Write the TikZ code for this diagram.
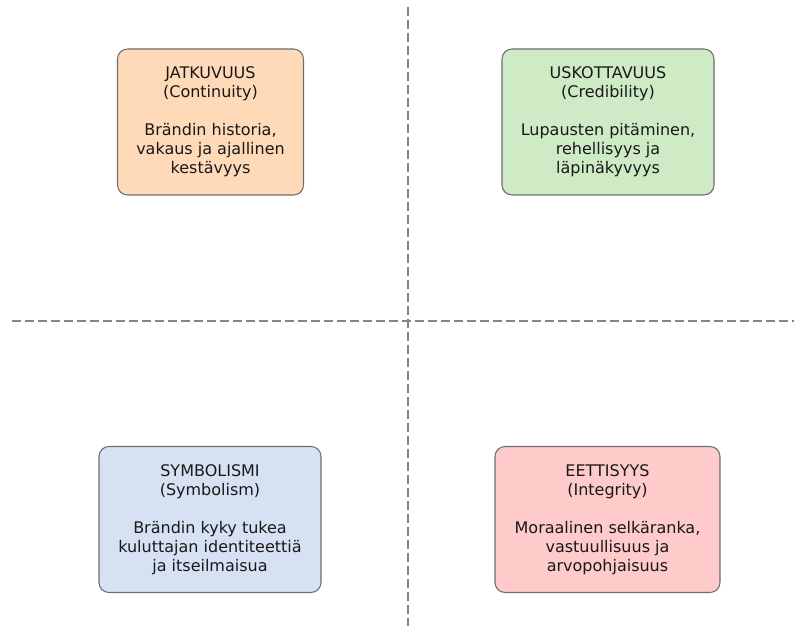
\documentclass[tikz,border=0pt]{standalone}
\usepackage{fontspec}
\setmainfont{DejaVu Sans}
\usetikzlibrary{positioning}
\definecolor{peach}{HTML}{FFDAB9}
\definecolor{mint}{HTML}{CFEBC6}
\definecolor{sky}{HTML}{D6E2F4}
\definecolor{rose}{HTML}{FFCACA}
\definecolor{cardline}{HTML}{6E6E6E}
\definecolor{divgray}{HTML}{858585}
\tikzset{
  card/.style={draw=cardline, line width=0.8pt, rectangle, rounded corners=7.5pt, minimum height=109.5pt, align=center, inner sep=0pt, font=\fontsize{12}{14.25}\selectfont, text=black!90},
  divider/.style={draw=divgray, line width=1.5pt, dash pattern=on 6.75pt off 3pt},
}

\begin{document}
\begin{tikzpicture}[x=0.75pt, y=-0.75pt]
\useasboundingbox (0,0) rectangle (794,630);
% quadrant dividers
\coordinate (vtop) at (408,7);
\coordinate (vbot) at (408,626);
\coordinate (hleft) at (12,321);
\coordinate (hright) at (794,321);
\draw[divider] (vtop) -- (vbot);
\draw[divider] (hleft) -- (hright);
% the four cards
\node[card, fill=peach, minimum width=139.5pt] (cont) at (210.5,122) {JATKUVUUS\\(Continuity)\\[14.25pt]Brändin historia,\\vakaus ja ajallinen\\kestävyys};
\node[card, fill=mint, minimum width=159pt] (cred) at (608,122) {USKOTTAVUUS\\(Credibility)\\[14.25pt]Lupausten pitäminen,\\rehellisyys ja\\läpinäkyvyys};
\node[card, fill=sky, minimum width=166.5pt] (symb) at (210,519.5) {SYMBOLISMI\\(Symbolism)\\[14.25pt]Brändin kyky tukea\\kuluttajan identiteettiä\\ja itseilmaisua};
\node[card, fill=rose, minimum width=168.75pt] (integ) at (607.5,519.5) {EETTISYYS\\(Integrity)\\[14.25pt]Moraalinen selkäranka,\\vastuullisuus ja\\arvopohjaisuus};
\end{tikzpicture}
\end{document}
